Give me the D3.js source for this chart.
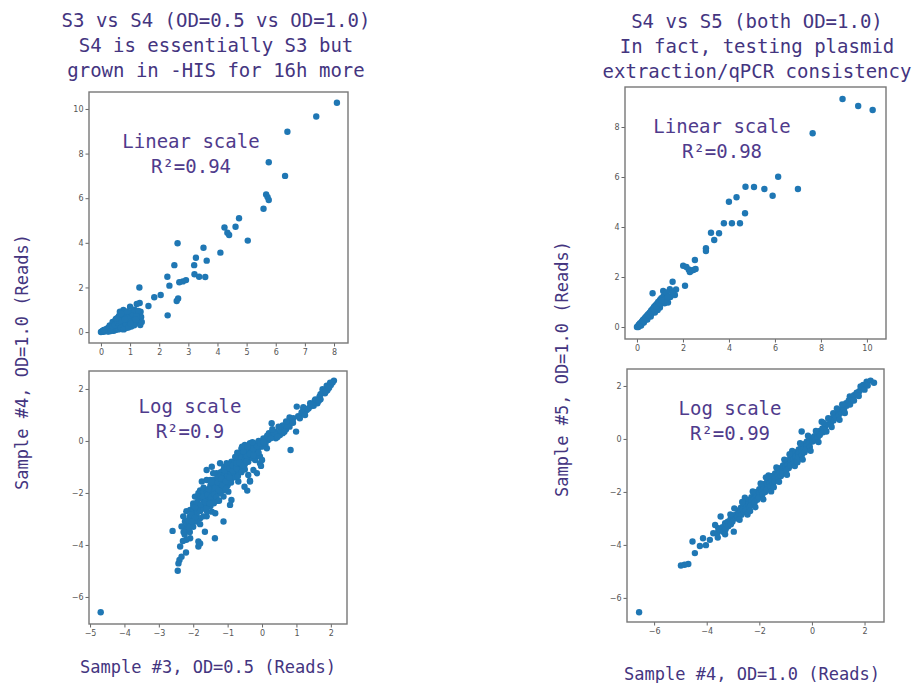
<!DOCTYPE html>
<html>
<head>
<meta charset="utf-8">
<script src="https://cdn.jsdelivr.net/npm/d3@7"></script>
<style>
  body { margin: 0; background: #fff; }
  svg { display: block; }
</style>
</head>
<body>
<svg id="fig" width="914" height="683"></svg>
<script>
// Read counts, sample 3 (x) vs sample 4 (y), linear scale
const s3s4Linear = [
  [8.1,10.28],[7.39,9.66],[6.4,8.98],[5.76,7.61],[6.32,7.0],[5.67,6.17],[5.72,6.05],[5.76,5.92],
  [5.58,5.53],[4.74,5.1],[4.62,4.72],[4.24,4.69],[4.4,4.35],[4.34,4.45],[5.04,4.1],[4.1,3.56],
  [3.52,3.78],[3.26,3.33],[3.63,3.2],[3.2,3.0],[3.21,2.59],[3.37,2.48],[3.58,2.47],[2.63,3.98],
  [2.52,3.0],[2.28,2.48],[2.35,2.08],[2.92,2.33],[2.81,2.27],[2.69,2.23],[2.65,1.51],[2.6,1.39],
  [2.29,0.75],[2.05,1.66],[1.83,1.56],[1.63,1.17],[1.32,2.0],[1.33,1.3],
  [1.0,1.14],[1.11,0.99],[1.23,1.26],[1.36,0.91],[1.18,0.84],[0.88,0.84],[0.77,0.99],[0.65,0.91],[1.32,0.76],
  [0.0,0.0],[0.03,0.02],[0.05,0.05],[0.07,0.01],[0.09,0.06],[0.11,0.03],[0.13,0.09],[0.15,0.05],
  [0.17,0.12],[0.19,0.07],[0.21,0.15],[0.23,0.04],[0.25,0.18],[0.27,0.1],[0.29,0.22],[0.31,0.08],
  [0.33,0.25],[0.35,0.14],[0.37,0.3],[0.39,0.1],[0.41,0.34],[0.43,0.19],[0.45,0.38],[0.47,0.12],
  [0.49,0.42],[0.51,0.24],[0.53,0.47],[0.55,0.16],[0.57,0.52],[0.59,0.3],[0.61,0.57],[0.63,0.2],
  [0.65,0.62],[0.67,0.36],[0.69,0.7],[0.71,0.14],[0.73,0.48],[0.75,0.78],[0.77,0.26],[0.79,0.55],
  [0.81,0.4],[0.83,0.66],[0.86,0.18],[0.88,0.5],[0.9,0.3],[0.93,0.72],[0.96,0.42],[1.0,0.6],
  [1.04,0.25],[1.08,0.48],[1.12,0.7],[1.18,0.4],[1.25,0.6],[1.3,0.5],[1.38,0.68],[1.35,0.32],
  [0.3,0.3],[0.4,0.45],[0.5,0.55],[0.6,0.4],[0.7,0.6],[0.8,0.88],[0.55,0.35],[0.45,0.28],
  [0.35,0.2],[0.2,0.12],[0.1,0.1],[0.62,0.72],[0.72,0.5],[0.85,0.78],[0.95,0.55],[1.1,0.9],
  [0.58,0.64],[0.66,0.46],[0.74,0.36],[0.84,0.3],[0.92,0.62],[0.98,0.75],[1.06,0.82],[1.15,1.0],
  [1.22,0.72],[1.28,0.95],[1.4,0.45],[0.44,0.06],[0.52,0.1],[0.6,0.12],[0.68,0.2],[0.78,0.12],
  [0.94,0.2],[1.14,0.3],[0.26,0.02],[0.34,0.05],[0.4,0.26],[0.48,0.32],[0.56,0.44],[0.64,0.5],
  [0.52,0.6],[0.7,0.82],[0.82,0.58],[0.9,0.92],[1.02,0.4],[1.2,0.55]
];

// Same pair, natural log of the reads
const s3s4Log = [
  [-4.69,-6.59],
  [2.09,2.32],[1.98,2.24],[1.88,2.12],[1.76,1.99],[1.83,1.83],[1.67,1.7],[1.53,1.55],[1.61,1.45],
  [1.4,1.32],[1.3,1.19],[1.2,1.06],[1.01,1.32],[1.1,0.87],[0.91,0.87],[0.83,0.74],[0.99,0.36],
  [0.83,-0.35],[0.62,0.49],[0.52,0.23],[0.28,0.68],[0.33,0.23],[0.18,0.04],[0.04,0.1],[-0.01,-0.22],
  [0.14,-0.28],[-0.15,-0.15],[-0.35,-0.09],[-0.45,-0.35],[-0.54,-0.6],[-0.2,-0.73],[-0.06,-0.86],
  [-0.03,-0.96],[-0.25,-1.12],[-0.4,-1.31],[-0.35,-1.53],[-0.51,-1.76],[-0.69,-1.56],[-0.66,-1.12],
  [-0.83,-0.99],[-0.74,-0.73],[-1.03,-0.86],[-0.98,-1.24],[-0.89,-1.44],[-1.12,-1.12],[-1.32,-1.24],
  [-1.22,-1.63],[-1.03,-1.76],[-0.98,-1.95],[-1.12,-2.14],[-0.89,-2.27],[-0.93,-2.46],[-1.32,-2.01],
  [-1.51,-2.14],[-1.42,-1.76],[-1.61,-1.5],[-1.75,-1.56],[-1.42,-1.24],[-1.22,-0.86],[-1.46,-0.99],
  [-1.61,-1.12],[-1.95,-2.14],[-1.85,-2.01],[-1.7,-2.27],[-2.0,-2.4],[-2.09,-2.65],[-1.95,-2.78],
  [-1.8,-2.97],[-1.61,-2.9],[-1.46,-2.72],[-1.36,-2.78],[-1.12,-3.1],[-1.66,-3.49],[-1.37,-3.74],
  [-1.85,-3.87],[-1.85,-4.06],[-2.09,-3.74],[-2.19,-3.29],[-2.29,-2.9],[-2.24,-3.1],[-2.04,-3.16],
  [-2.6,-3.46],[-2.38,-4.06],[-2.21,-4.29],[-2.34,-4.45],[-2.4,-4.58],[-2.43,-4.71],[-2.45,-4.99],
  [-0.64,-0.54],[-0.89,-0.8],[-0.3,-0.47],[-0.06,-0.6],[-0.15,-0.35],[0.0,-0.73],[-0.35,-0.12],
  [-0.43,-1.91],[-0.15,-1.24],[-0.35,-1.56],[-2.34,-3.29],[-1.8,-3.94],[-0.5,-0.15],[-0.6,-0.3],
  [-2.2,-3.4],[-2.2,-3.8],[-2.2,-2.7],[-2.1,-3.2],[-2.1,-2.9],[-2.1,-3.5],
  [-2.0,-2.7],[-2.0,-3.0],[-2.0,-3.3],[-2.0,-2.5],[-1.9,-2.4],[-1.9,-2.8],[-1.9,-3.1],[-1.9,-2.6],
  [-1.8,-2.2],[-1.8,-2.5],[-1.8,-2.7],[-1.8,-3.2],[-1.8,-1.9],[-1.7,-2.0],[-1.7,-2.4],[-1.7,-2.6],
  [-1.7,-2.9],[-1.7,-1.8],[-1.6,-1.9],[-1.6,-2.2],[-1.6,-2.5],[-1.6,-2.0],[-1.6,-2.7],
  [-1.5,-1.7],[-1.5,-2.0],[-1.5,-2.3],[-1.5,-2.5],[-1.5,-1.5],[-1.4,-1.5],[-1.4,-1.9],[-1.4,-2.2],
  [-1.4,-2.4],[-1.4,-1.7],[-1.3,-1.4],[-1.3,-1.7],[-1.3,-2.0],[-1.3,-2.3],[-1.3,-1.55],
  [-1.2,-1.2],[-1.2,-1.5],[-1.2,-1.8],[-1.2,-2.0],[-1.2,-1.35],[-1.1,-1.0],[-1.1,-1.3],[-1.1,-1.6],
  [-1.1,-1.9],[-1.1,-1.45],[-1.0,-0.95],[-1.0,-1.2],[-1.0,-1.5],[-1.0,-1.7],[-1.0,-1.35],
  [-0.9,-0.9],[-0.9,-1.1],[-0.9,-1.3],[-0.9,-1.6],[-0.9,-1.2],[-0.8,-0.8],[-0.8,-1.0],[-0.8,-1.25],
  [-0.8,-1.4],[-0.7,-0.65],[-0.7,-0.9],[-0.7,-1.15],[-0.7,-1.35],[-0.6,-0.5],[-0.6,-0.75],[-0.6,-1.0],
  [-0.6,-1.2],[-0.5,-0.45],[-0.5,-0.7],[-0.5,-0.9],[-0.5,-1.1],[-0.4,-0.3],[-0.4,-0.55],[-0.4,-0.8],
  [-0.3,-0.2],[-0.3,-0.4],[-0.3,-0.65],[-0.2,-0.1],[-0.2,-0.3],[-0.2,-0.55],[-0.1,0.0],[-0.1,-0.25],
  [-0.1,-0.45],[0.1,0.05],[0.1,-0.1],[0.2,0.15],[0.2,0.3],[0.4,0.2],[0.4,0.35],[0.4,0.1],
  [0.6,0.3],[0.6,0.6],[0.7,0.45],[0.8,0.55],[0.8,0.9],[1.2,1.2],[1.2,1.3],[1.4,1.45],[1.5,1.35],
  [1.7,1.8],[1.7,1.6],[1.9,2.0],[1.9,1.95],[2.0,2.15],
  [-2.15,-3.05],[-2.05,-2.85],[-1.95,-2.55],[-1.88,-2.35],[-1.78,-2.45],[-1.72,-2.15],[-1.65,-2.35],
  [-1.58,-2.05],[-1.55,-1.85],[-1.48,-2.15],[-1.45,-1.6],[-1.38,-2.05],[-1.35,-1.8],[-1.28,-1.6],
  [-1.25,-1.9],[-1.18,-1.45],[-1.15,-1.7],[-1.08,-1.15],[-1.05,-1.55],[-0.95,-1.05],[-0.95,-1.4],
  [-0.85,-1.15],[-0.85,-0.95],[-0.75,-1.05],[-0.75,-0.85],[-0.65,-0.85],[-0.65,-0.6],[-0.55,-0.95],
  [-0.55,-0.4],[-0.45,-0.6],[-0.45,-0.8],[-0.35,-0.5],[-0.25,-0.3],[-0.25,-0.55],[-0.15,-0.2],
  [-0.05,-0.1],[0.05,-0.05],[0.15,0.2],[0.25,0.1],[0.35,0.3],[0.45,0.15],[0.55,0.4],[0.65,0.35],
  [0.75,0.6],[0.9,0.7],[1.05,0.95],[1.15,1.1],[1.25,1.0],[1.35,1.25],[1.45,1.4],[1.55,1.6],
  [1.65,1.55],[1.75,1.85],[1.85,1.9],[1.95,2.05],[2.05,2.25],[-1.62,-2.6],[-1.52,-2.4],[-1.32,-2.15],
  [-1.25,-2.3],[-1.05,-1.85],[-1.95,-2.95],[-2.05,-3.1],[-2.12,-3.35],[-2.25,-3.6],[-2.3,-3.85],
  [-2.28,-3.5],[-0.72,-0.45],[-0.78,-0.62],[-0.58,-0.22],[-0.42,-0.2],[-0.28,-0.05],[0.3,0.45],
  [0.48,0.55],[0.7,0.75]
];

// Read counts, sample 4 (x) vs sample 5 (y), linear scale
const s4s5Linear = [
  [8.94,9.12],[9.62,8.84],[10.25,8.68],[7.64,7.75],[6.14,6.01],[4.72,5.61],[5.09,5.6],[5.54,5.52],
  [5.9,5.25],[7.0,5.52],[4.0,5.01],[4.33,5.19],[4.7,4.55],[3.78,4.15],[4.13,4.15],[4.48,4.15],
  [3.22,3.77],[3.57,3.75],[3.36,3.48],[3.0,3.15],[3.0,3.04],[2.52,2.68],[2.01,2.45],[2.15,2.4],
  [2.25,2.3],[2.35,2.25],[2.45,2.28],[2.55,2.32],[2.3,2.2],[2.09,1.65],[1.55,1.81],[1.7,1.5],
  [1.43,1.51],[1.65,1.28],[0.68,1.35],[1.14,1.44],[1.2,0.95],[1.45,1.2],[1.55,1.35],[1.35,0.98],
  [0.0,0.0],[0.04,0.03],[0.08,0.09],[0.1,0.05],[0.14,0.15],[0.16,0.1],[0.2,0.2],[0.22,0.16],
  [0.26,0.28],[0.28,0.22],[0.32,0.33],[0.34,0.27],[0.38,0.4],[0.4,0.32],[0.44,0.46],[0.46,0.38],
  [0.5,0.52],[0.52,0.44],[0.56,0.58],[0.58,0.48],[0.62,0.66],[0.64,0.55],[0.68,0.72],[0.7,0.6],
  [0.74,0.8],[0.76,0.66],[0.8,0.86],[0.82,0.72],[0.86,0.92],[0.88,0.78],[0.92,1.0],[0.95,0.85],
  [1.0,1.08],[1.02,0.92],[1.06,1.15],[1.1,1.0],[1.15,1.22],[1.18,1.05],[1.22,1.3],[1.25,1.12],
  [1.3,1.38],[1.35,1.2],[1.0,0.78],[0.9,0.68],[0.78,0.58],[0.6,0.42],[0.45,0.3],[0.3,0.18],
  [0.18,0.06],[0.06,0.0],[0.12,0.12],[0.24,0.24],[0.36,0.36],[0.48,0.48],[0.6,0.6],[0.72,0.7],
  [0.84,0.82],[0.96,0.95],[1.08,1.06]
];

// Same pair, natural log of the reads
const s4s5Log = [
  [-6.57,-6.54],[-4.98,-4.78],[-4.7,-4.72],[-4.84,-4.75],[-4.54,-3.87],[-4.45,-4.31],[-4.26,-4.04],
  [-4.03,-4.01],[-4.14,-3.75],[-3.88,-3.81],[-3.75,-3.56],[-3.56,-3.37],[-3.68,-3.25],[-3.47,-2.93],
  [-2.97,-3.5],[-0.39,0.28],[0.37,0.65],[0.81,0.97],[1.44,1.6],[1.95,2.04],[2.08,2.16],[2.23,2.2],
  [2.36,2.12],
  [-3.6,-3.55],[-3.58,-3.72],[-3.5,-3.42],[-3.4,-3.33],[-3.38,-3.5],[-3.3,-3.18],[-3.28,-3.41],
  [-3.2,-3.12],[-3.18,-3.3],[-3.1,-3.04],[-3.08,-3.22],[-3.0,-2.9],[-3.02,-3.12],[-2.9,-2.86],
  [-2.88,-3.0],[-2.8,-2.7],[-2.82,-2.92],[-2.78,-2.8],[-2.7,-2.6],[-2.7,-2.76],[-2.68,-2.86],
  [-2.6,-2.5],[-2.62,-2.66],[-2.58,-2.76],[-2.5,-2.4],[-2.5,-2.56],[-2.52,-2.7],[-2.4,-2.3],
  [-2.42,-2.46],[-2.38,-2.6],[-2.3,-2.2],[-2.3,-2.36],[-2.32,-2.5],[-2.2,-2.1],[-2.2,-2.26],
  [-2.18,-2.4],[-2.1,-2.0],[-2.12,-2.15],[-2.08,-2.3],[-2.0,-1.9],[-2.0,-2.06],[-2.02,-2.2],
  [-1.9,-1.8],[-1.9,-1.96],[-1.88,-2.1],[-1.8,-1.7],[-1.82,-1.86],[-1.78,-2.0],[-1.7,-1.6],
  [-1.7,-1.76],[-1.72,-1.9],[-1.6,-1.5],[-1.6,-1.66],[-1.58,-1.8],[-1.5,-1.4],[-1.52,-1.56],
  [-1.48,-1.7],[-1.4,-1.3],[-1.4,-1.46],[-1.42,-1.6],[-1.3,-1.2],[-1.3,-1.36],[-1.28,-1.5],
  [-1.2,-1.1],[-1.22,-1.26],[-1.18,-1.4],[-1.1,-1.0],[-1.1,-1.16],[-1.12,-1.3],[-1.0,-0.9],
  [-1.0,-1.06],[-0.98,-1.2],[-0.9,-0.8],[-0.92,-0.96],[-0.88,-1.1],[-0.8,-0.7],[-0.8,-0.86],
  [-0.82,-1.0],[-0.7,-0.6],[-0.7,-0.76],[-0.68,-0.9],[-0.6,-0.5],[-0.62,-0.66],[-0.58,-0.8],
  [-0.5,-0.4],[-0.5,-0.56],[-0.52,-0.7],[-0.4,-0.3],[-0.4,-0.46],[-0.38,-0.6],[-0.3,-0.2],
  [-0.32,-0.36],[-0.28,-0.5],[-0.2,-0.1],[-0.2,-0.26],[-0.22,-0.4],[-0.1,0.0],[-0.1,-0.16],
  [-0.08,-0.3],[0.0,0.05],[0.02,-0.1],[0.1,0.1],[0.12,-0.05],[0.2,0.2],[0.22,0.05],[0.3,0.3],
  [0.3,0.15],[0.4,0.4],[0.42,0.25],[0.5,0.45],[0.6,0.55],[0.7,0.7],[0.72,0.6],[0.8,0.8],
  [0.82,0.7],[0.9,0.9],[0.92,0.8],[1.0,1.0],[1.02,0.9],[1.1,1.1],[1.12,1.0],[1.2,1.2],
  [1.22,1.1],[1.3,1.35],[1.32,1.25],[1.4,1.45],[1.5,1.55],[1.52,1.45],[1.6,1.65],[1.7,1.75],
  [1.72,1.68],[1.8,1.8],[1.9,1.95],
  [-3.3,-3.6],[-3.1,-2.85],[-2.95,-2.62],[-2.75,-3.05],[-2.55,-2.22],[-2.45,-2.85],[-2.25,-1.98],
  [-2.15,-2.58],[-1.95,-1.68],[-1.85,-2.28],[-1.65,-1.38],[-1.55,-1.98],[-1.35,-1.08],[-1.25,-1.62],
  [-1.05,-0.78],[-0.95,-1.35],[-0.75,-0.45],[-0.65,-1.02],[-0.45,-0.16],[-0.35,-0.78],[-0.15,0.12],
  [-0.05,-0.45],[0.15,0.3],[0.25,-0.12],[0.45,0.6],[0.55,0.28],[0.62,0.78],[0.75,0.45],[0.95,1.15],
  [1.05,0.72],[1.15,1.3],[1.25,0.98],[1.45,1.3],[1.6,1.45],[1.78,1.62],[1.85,1.98],[2.0,1.86],
  [2.12,2.02],[-2.65,-2.38],[-2.35,-2.72],[-1.75,-1.45],[-1.45,-1.82],[-0.85,-0.58],[-0.55,-0.88]
];

// Tick values for each panel
const s3s4LinearXTicks = [0, 1, 2, 3, 4, 5, 6, 7, 8];
const s3s4LinearYTicks = [0, 2, 4, 6, 8, 10];
const s3s4LogXTicks = [-5, -4, -3, -2, -1, 0, 1, 2];
const s3s4LogYTicks = [-6, -4, -2, 0, 2];
const s4s5LinearXTicks = [0, 2, 4, 6, 8, 10];
const s4s5LinearYTicks = [0, 2, 4, 6, 8];
const s4s5LogXTicks = [-6, -4, -2, 0, 2];
const s4s5LogYTicks = [-6, -4, -2, 0, 2];

// Text
const leftTitle = ["S3 vs S4 (OD=0.5 vs OD=1.0)", "S4 is essentially S3 but", "grown in -HIS for 16h more"];
const rightTitle = ["S4 vs S5 (both OD=1.0)", "In fact, testing plasmid", "extraction/qPCR consistency"];
const panelNotes = [
  ["Linear scale", "R\u00b2=0.94"],
  ["Log scale", "R\u00b2=0.9"],
  ["Linear scale", "R\u00b2=0.98"],
  ["Log scale", "R\u00b2=0.99"]
];
const xLabels = ["Sample #3, OD=0.5 (Reads)", "Sample #4, OD=1.0 (Reads)"];
const yLabels = ["Sample #4, OD=1.0 (Reads)", "Sample #5, OD=1.0 (Reads)"];

const MONO = "'DejaVu Sans Mono', 'Liberation Mono', monospace";
const TEXT_COLOR = "#44357f";
const NOTE_COLOR = "#4f3b8c";
const DOT = "#1f77b4";

const svg = d3.select("#fig");
svg.append("rect").attr("width", 914).attr("height", 683).attr("fill", "#fff");

const panels = [
  { data: s3s4Linear, box: [89, 92, 348, 343], xd: [-0.41, 8.48], yd: [-0.49, 10.76],
    xt: s3s4LinearXTicks, yt: s3s4LinearYTicks, note: panelNotes[0], nx: 191, ny: 148 },
  { data: s3s4Log, box: [89, 371, 347, 624], xd: [-5.03, 2.47], yd: [-7.04, 2.69],
    xt: s3s4LogXTicks, yt: s3s4LogYTicks, note: panelNotes[1], nx: 190, ny: 413 },
  { data: s4s5Linear, box: [625, 87, 886, 339], xd: [-0.52, 10.83], yd: [-0.48, 9.6],
    xt: s4s5LinearXTicks, yt: s4s5LinearYTicks, note: panelNotes[2], nx: 722, ny: 133 },
  { data: s4s5Log, box: [627, 369, 884, 622], xd: [-7.03, 2.74], yd: [-6.91, 2.64],
    xt: s4s5LogXTicks, yt: s4s5LogYTicks, note: panelNotes[3], nx: 730, ny: 415 }
];

const fmt = d3.format("d");

panels.forEach(p => {
  const [x0, y0, x1, y1] = p.box;
  const x = d3.scaleLinear().domain(p.xd).range([x0, x1]);
  const y = d3.scaleLinear().domain(p.yd).range([y1, y0]);
  const g = svg.append("g");

  // points
  g.append("g").selectAll("circle").data(p.data).join("circle")
    .attr("cx", d => x(d[0])).attr("cy", d => y(d[1]))
    .attr("r", 3.2).attr("fill", DOT);

  // axes
  const ax = g.append("g").attr("transform", `translate(0,${y1})`)
    .call(d3.axisBottom(x).tickValues(p.xt).tickFormat(fmt).tickSize(3.5).tickPadding(3));
  const ay = g.append("g").attr("transform", `translate(${x0},0)`)
    .call(d3.axisLeft(y).tickValues(p.yt).tickFormat(fmt).tickSize(3.5).tickPadding(2));
  [ax, ay].forEach(a => {
    a.select(".domain").remove();
    a.selectAll("line").attr("stroke", "#666").attr("stroke-width", 1);
    a.selectAll("text").attr("fill", "#555").style("font-family", "'DejaVu Sans', sans-serif").style("font-size", "8px");
  });

  // frame
  g.append("rect").attr("x", x0).attr("y", y0).attr("width", x1 - x0).attr("height", y1 - y0)
    .attr("fill", "none").attr("stroke", "#777").attr("stroke-width", 1.4);

  // annotation
  g.append("text").attr("x", p.nx).attr("y", p.ny).attr("text-anchor", "middle")
    .attr("fill", NOTE_COLOR).style("font-family", MONO).style("font-size", "19px")
    .text(p.note[0]);
  g.append("text").attr("x", p.nx).attr("y", p.ny + 25).attr("text-anchor", "middle")
    .attr("fill", NOTE_COLOR).style("font-family", MONO).style("font-size", "19px")
    .text(p.note[1]);
});

// column titles
function title(lines, cx, baselines) {
  lines.forEach((t, i) => {
    svg.append("text").attr("x", cx).attr("y", baselines[i]).attr("text-anchor", "middle")
      .attr("fill", TEXT_COLOR).style("font-family", MONO).style("font-size", "19px").text(t);
  });
}
title(leftTitle, 216, [27, 52, 77]);
title(rightTitle, 757, [28, 53, 78]);

// axis labels
[[xLabels[0], 208, 673], [xLabels[1], 752, 680]].forEach(([t, cx, by]) => {
  svg.append("text").attr("x", cx).attr("y", by).attr("text-anchor", "middle")
    .attr("fill", TEXT_COLOR).style("font-family", MONO).style("font-size", "17px").text(t);
});
[[yLabels[0], 22, 362], [yLabels[1], 562, 369]].forEach(([t, cx, cy]) => {
  svg.append("text").attr("transform", `translate(${cx},${cy}) rotate(-90)`)
    .attr("text-anchor", "middle").attr("dy", "0.35em")
    .attr("fill", TEXT_COLOR).style("font-family", MONO).style("font-size", "17px").text(t);
});
</script>
</body>
</html>
